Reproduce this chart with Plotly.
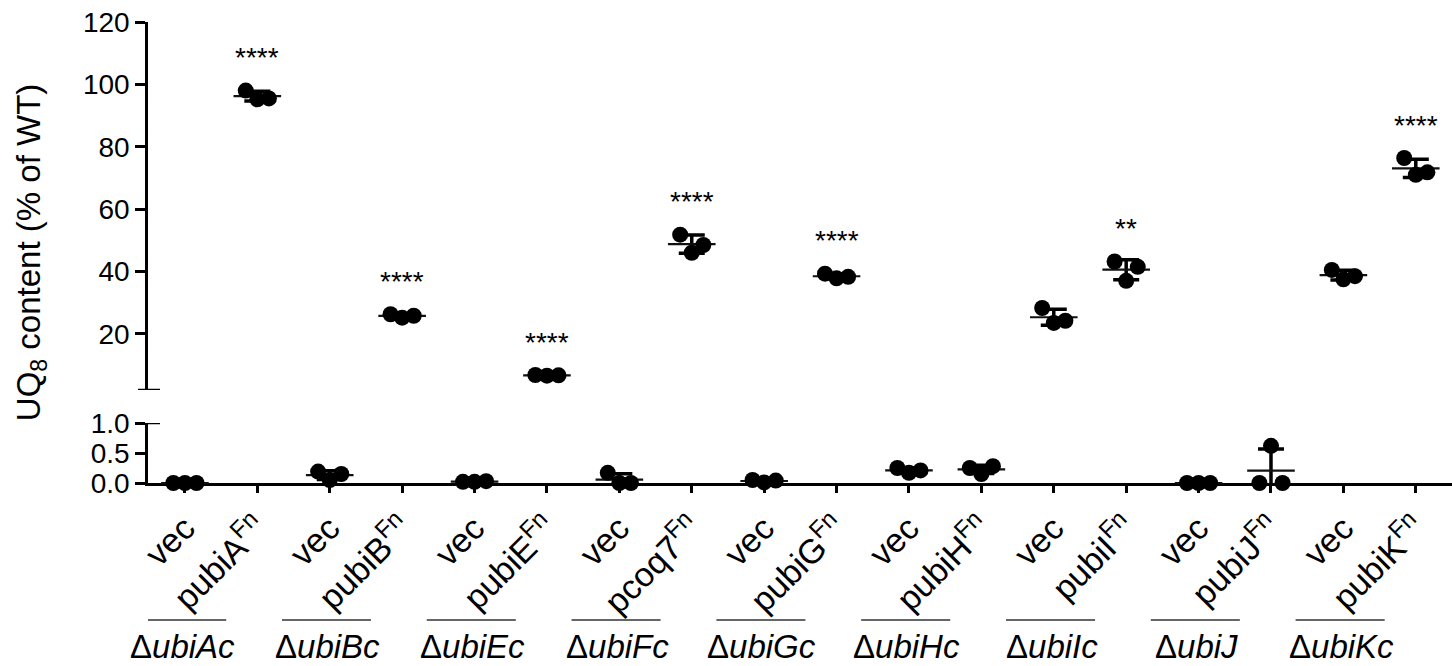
import plotly.graph_objects as go
import numpy as np

FONT = "Liberation Sans, Arial, sans-serif"

# ---------------- data ----------------
tick_labels = ["vec", "pubiA<sup>Fn</sup>", "vec", "pubiB<sup>Fn</sup>", "vec", "pubiE<sup>Fn</sup>",
               "vec", "pcoq7<sup>Fn</sup>", "vec", "pubiG<sup>Fn</sup>", "vec", "pubiH<sup>Fn</sup>",
               "vec", "pubiI<sup>Fn</sup>", "vec", "pubiJ<sup>Fn</sup>", "vec", "pubiK<sup>Fn</sup>"]
group_labels = ["Δ<i>ubiAc</i>", "Δ<i>ubiBc</i>", "Δ<i>ubiEc</i>", "Δ<i>ubiFc</i>", "Δ<i>ubiGc</i>",
                "Δ<i>ubiHc</i>", "Δ<i>ubiIc</i>", "Δ<i>ubiJ</i>", "Δ<i>ubiKc</i>"]
# three replicates per condition (left, middle, right dot)
rep_left  = [0.00, 98.0, 0.19, 26.3, 0.02, 6.8, 0.17, 51.8, 0.05, 39.3, 0.25, 0.25, 28.3, 43.2, 0.00, 0.00, 40.5, 76.4]
rep_mid   = [0.00, 95.2, 0.05, 25.2, 0.02, 6.6, 0.00, 46.0, 0.01, 37.8, 0.17, 0.15, 23.5, 37.0, 0.00, 0.62, 37.5, 71.0]
rep_right = [0.00, 95.5, 0.15, 25.8, 0.03, 6.7, 0.00, 48.5, 0.04, 38.3, 0.21, 0.28, 24.2, 41.5, 0.00, 0.00, 38.5, 71.8]
stars     = ["", "****", "", "****", "", "****", "", "****", "", "****", "", "", "", "**", "", "", "", "****"]

# ---------------- style ----------------
jitter = [-0.16, 0.0, 0.16]
MS = 16

reps = np.array([rep_left, rep_mid, rep_right])
means = reps.mean(axis=0)
sds = reps.std(axis=0, ddof=1)
n = len(tick_labels)
idx = np.arange(n)
upper = means > 1.0

fig = go.Figure()

for panel, ya in ((~upper, "y"), (upper, "y2")):
    sel = idx[panel]
    # mean lines + SD error bars
    fig.add_trace(go.Scatter(
        x=sel, y=means[panel], yaxis=ya, mode="markers", cliponaxis=False,
        marker=dict(symbol="line-ew", size=34, line=dict(width=2.2, color="#111")),
        error_y=dict(type="data", array=sds[panel], visible=True, thickness=3.5, width=13, color="#000"),
        showlegend=False, hoverinfo="skip"))
    # individual points
    for k in range(3):
        fig.add_trace(go.Scatter(
            x=sel + jitter[k], y=reps[k][panel], yaxis=ya, mode="markers", cliponaxis=False,
            marker=dict(symbol="circle", size=MS, color="#000"),
            showlegend=False))

# significance stars
for i in range(n):
    if stars[i]:
        fig.add_annotation(x=i, y=reps[:, i].max() + 10.5, xref="x", yref="y2", text=stars[i],
                           showarrow=False, font=dict(family=FONT, size=28, color="#000"))

H_TOP, H_BOT = 22, 183
plot_h = 666 - H_TOP - H_BOT
low_top = 60 / plot_h
up_bot = 93 / plot_h

def py(px):  # pixel row -> paper y
    return (666 - H_BOT - px) / plot_h

# group labels with underline
for g, lab in enumerate(group_labels):
    xc = 2 * g - 0.03
    fig.add_shape(type="line", xref="x", yref="paper", x0=xc - 0.63, x1=xc + 0.6,
                  y0=py(620), y1=py(620), line=dict(color="#333", width=1.6))
    fig.add_annotation(x=xc, y=py(646), xref="x", yref="paper", text=lab, showarrow=False,
                       font=dict(family=FONT, size=33, color="#000"), yanchor="middle")

# axis break marks
fig.add_shape(type="line", xref="x domain", yref="y2", x0=-0.0077, x1=0.0092, y0=2, y1=2,
              line=dict(color="#000", width=2.5))
fig.add_shape(type="line", xref="x domain", yref="y", x0=0, x1=0.0092, y0=1, y1=1,
              line=dict(color="#000", width=2.5))

fig.update_layout(
    width=1452, height=666,
    margin=dict(l=148, r=0, t=H_TOP, b=H_BOT, autoexpand=False),
    paper_bgcolor="white", plot_bgcolor="white",
    font=dict(family=FONT, color="#000"),
    xaxis=dict(range=[-0.51, 17.5], tickvals=list(idx), ticktext=tick_labels, tickangle=-45,
               showgrid=False, zeroline=False, showline=True, linecolor="#000", linewidth=2.5,
               ticks="outside", ticklen=7, tickwidth=2.5, tickcolor="#000",
               tickfont=dict(family=FONT, size=34, color="#000"), layer="below traces",
               ticklabelstandoff=2, anchor="y", automargin=False),
    yaxis=dict(domain=[0, low_top], range=[0, 1], tickvals=[0, 0.5, 1.0], ticktext=["0.0", "0.5", "1.0"],
               showgrid=False, zeroline=False, showline=True, linecolor="#000", linewidth=2.5,
               ticks="outside", ticklen=10, tickwidth=2.5, tickcolor="#000",
               tickfont=dict(family=FONT, size=28, color="#000"), anchor="x", layer="below traces",
               automargin=False),
    yaxis2=dict(domain=[up_bot, 1], range=[2, 120], tickvals=[20, 40, 60, 80, 100, 120],
                showgrid=False, zeroline=False, showline=True, linecolor="#000", linewidth=2.5,
                ticks="outside", ticklen=10, tickwidth=2.5, tickcolor="#000",
                tickfont=dict(family=FONT, size=28, color="#000"), anchor="x", layer="below traces",
                automargin=False),
)

fig.add_annotation(x=-0.090, y=0.5, xref="paper", yref="paper", textangle=-90,
                   text="UQ<sub>8</sub> content (% of WT)", showarrow=False,
                   font=dict(family=FONT, size=33, color="#000"), xanchor="center", yanchor="middle")

fig.write_html("out.html", config={"displayModeBar": False},
               post_script="document.body.style.margin='0';document.body.style.overflow='hidden';")
